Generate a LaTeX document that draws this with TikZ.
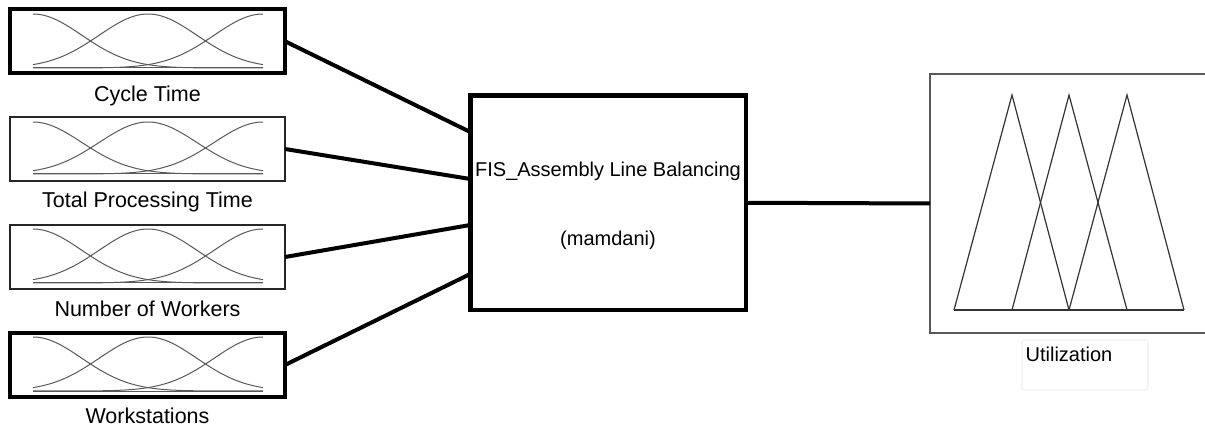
\documentclass[tikz,border=0pt]{standalone}
\usepackage{fontspec}
\setmainfont{Liberation Sans}
\usetikzlibrary{calc}
\begin{document}
\begin{tikzpicture}[x=1pt,y=-1pt,
  inbox/.style={draw, inner sep=0pt, outer sep=0pt, minimum width=275pt, minimum height=64pt},
  thickbox/.style={inbox, line width=4pt},
  thinbox/.style={inbox, line width=1.3pt, draw=black!85},
  lbl/.style={anchor=base, inner sep=0pt, font=\fontsize{21.5}{25}\selectfont},
  conn/.style={line width=4pt},
  mf/.style={draw=black!65, line width=1pt},
  tri/.style={draw=black!80, line width=1.2pt, line join=miter},
]
\useasboundingbox (0,0) rectangle (1205,430);

% input boxes
\node[thickbox] (in1) at (147.5,41.25) {};
\node[thinbox]  (in2) at (147.5,149) {};
\node[thinbox]  (in3) at (147.5,257) {};
\node[thickbox] (in4) at (147.5,365) {};

% membership functions
\foreach \p/\b in {14/68,122/174,229/283,337/391}{
  \foreach \c in {33,148,263}{
    \draw[mf] plot[domain=33:263,samples=90,smooth]
      (\x,{\b-(\b-\p)*exp(-0.5*((\x-\c)/48.84)*((\x-\c)/48.84))});
  }
  \draw[mf] (33,\b) -- (263,\b);
}

% labels
\node[lbl] (l1) at (147.5,102) {Cycle Time};
\node[lbl] (l2) at (147.5,208) {Total Processing Time};
\node[lbl] (l3) at (147.5,317) {Number of Workers};
\node[lbl] (l4) at (147.5,423) {Workstations};

% FIS box
\node[draw, line width=4.5pt, inner sep=0pt, outer sep=0pt,
      minimum width=275.5pt, minimum height=214.5pt] (fis) at (608,202.75) {};
\node[lbl, font=\fontsize{20}{24}\selectfont] (fist) at (608,177) {FIS\_Assembly Line Balancing};
\node[lbl, font=\fontsize{20}{24}\selectfont] (fism) at (608,246) {(mamdani)};

% output box (cut at right edge)
\node[draw=black!65, line width=2pt, inner sep=0pt, outer sep=0pt,
      minimum width=282pt, minimum height=259pt] (out) at (1071,203.5) {};

% triangles
\draw[tri] (954,310) -- (1012,95) -- (1069,310);
\draw[tri] (1012,310) -- (1069,95) -- (1127,310);
\draw[tri] (1069,310) -- (1127,95) -- (1184,310);
\draw[tri] (954,310) -- (1184,310);

% faint label frame and label
\draw[black!4, line width=2pt, rounded corners=3pt] (1022,340) rectangle (1148,390);
\node[lbl, font=\fontsize{20}{24}\selectfont] (lo) at (1069,361) {Utilization};

% connectors
\draw[conn] (in1.east) -- ([yshift=70.75pt]fis.west);
\draw[conn] (in2.east) -- ([yshift=23.75pt]fis.west);
\draw[conn] (in3.east) -- ([yshift=-22.25pt]fis.west);
\draw[conn] (in4.east) -- ([yshift=-71.25pt]fis.west);
\draw[conn] (fis.east) -- (out.west);
\end{tikzpicture}
\end{document}
